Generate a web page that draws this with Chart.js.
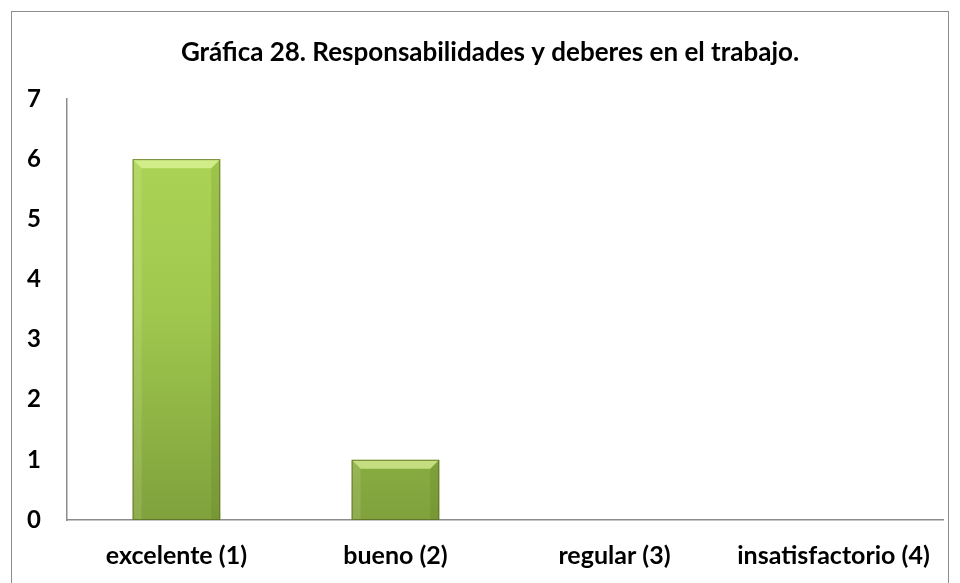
<!DOCTYPE html>
<html>
<head>
<meta charset="utf-8">
<script src="https://cdn.jsdelivr.net/npm/chart.js@4.4.1/dist/chart.umd.min.js"></script>
<style>
  body { margin: 0; background: #fff; }
  #wrap { position: relative; width: 960px; height: 583px; }
  #frame { position: absolute; left: 11px; top: 11px; width: 938px; height: 600px; border: 1.5px solid #8c8c8c; box-sizing: border-box; }
</style>
</head>
<body>
<div id="wrap">
  <div id="frame"></div>
  <canvas id="chart" width="960" height="583"></canvas>
</div>
<script>
// data
let categories = ["excelente (1)", "bueno (2)", "regular (3)", "insatisfactorio (4)"];
let values = [6, 1, 0, 0];
let yTicks = [0, 1, 2, 3, 4, 5, 6, 7];
let title = "Gráfica 28. Responsabilidades y deberes en el trabajo.";

let font = "Lato, 'Open Sans', sans-serif";

// bar fill, light on top and darker to the bottom
function barFill(c) {
  let chart = c.chart;
  let area = chart.chartArea;
  if (!area) return "#9bc24a";
  let g = chart.ctx.createLinearGradient(0, area.top, 0, area.bottom);
  g.addColorStop(0, "#afd858");
  g.addColorStop(0.5, "#a0c84e");
  g.addColorStop(1, "#80a13c");
  return g;
}

// bevel edges like the office chart
let bevel = {
  id: "bevel",
  afterDatasetsDraw(chart) {
    let ctx = chart.ctx;
    chart.getDatasetMeta(0).data.forEach(bar => {
      let p = bar.getProps(["x", "y", "base", "width"], true);
      let h = p.base - p.y;
      if (h <= 0) return;
      let l = p.x - p.width / 2, r = p.x + p.width / 2, t = p.y, b = p.base;
      let e = Math.min(9, h / 2);
      ctx.save();
      // top
      ctx.fillStyle = "rgba(235,255,170,0.6)";
      ctx.beginPath();
      ctx.moveTo(l, t); ctx.lineTo(r, t); ctx.lineTo(r - e, t + e); ctx.lineTo(l + e, t + e); ctx.closePath();
      ctx.fill();
      // left
      ctx.fillStyle = "rgba(255,255,220,0.12)";
      ctx.beginPath();
      ctx.moveTo(l, t); ctx.lineTo(l + e, t + e); ctx.lineTo(l + e, b); ctx.lineTo(l, b); ctx.closePath();
      ctx.fill();
      // right
      ctx.fillStyle = "rgba(60,80,10,0.12)";
      ctx.beginPath();
      ctx.moveTo(r, t); ctx.lineTo(r - e, t + e); ctx.lineTo(r - e, b); ctx.lineTo(r, b); ctx.closePath();
      ctx.fill();
      ctx.strokeStyle = "rgba(90,110,35,0.8)";
      ctx.lineWidth = 1;
      ctx.strokeRect(l + 0.5, t + 0.5, p.width - 1, h - 1);
      ctx.restore();
    });
  }
};

// title drawn over the whole frame, not only the padded box
let titlePlugin = {
  id: "frameTitle",
  afterDraw(chart) {
    let ctx = chart.ctx;
    ctx.save();
    ctx.font = "bold 26px " + font;
    ctx.fillStyle = "#000";
    ctx.textAlign = "center";
    ctx.textBaseline = "middle";
    ctx.fillText(title, 490, 53);
    ctx.restore();
  }
};

let chart = new Chart(document.getElementById("chart"), {
  type: "bar",
  data: {
    labels: categories,
    datasets: [{
      data: values,
      backgroundColor: barFill,
      borderWidth: 0,
      barPercentage: 1,
      categoryPercentage: 0.4
    }]
  },
  options: {
    responsive: false,
    animation: false,
    layout: { padding: { left: 9, right: 17, top: 99, bottom: 0 } },
    plugins: {
      legend: { display: false },
      tooltip: { enabled: false },
      title: { display: false }
    },
    scales: {
      x: {
        grid: { display: false },
        border: { display: true, color: "#8c8c8c", width: 1.5 },
        ticks: { color: "#000", font: { family: font, size: 25, weight: "bold", lineHeight: 1 }, padding: 15, maxRotation: 0 }
      },
      y: {
        min: 0,
        max: 7,
        afterBuildTicks: s => { s.ticks = yTicks.map(v => ({ value: v })); },
        grid: { display: false },
        border: { display: true, color: "#8c8c8c", width: 1.5 },
        ticks: { color: "#000", font: { family: font, size: 24, weight: "bold" }, padding: 18 }
      }
    }
  },
  plugins: [bevel, titlePlugin]
});
</script>
</body>
</html>
